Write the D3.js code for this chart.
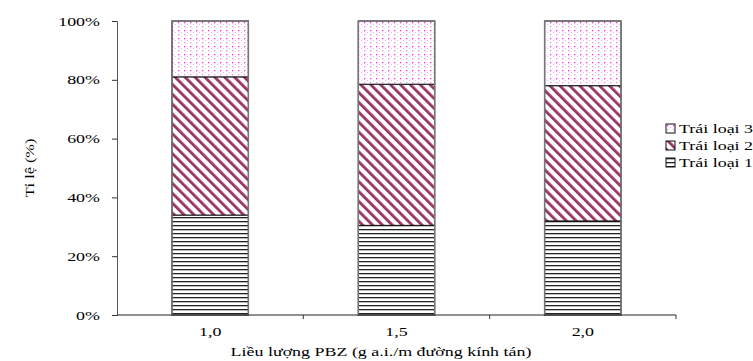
<!DOCTYPE html>
<html>
<head>
<meta charset="utf-8">
<script src="https://cdn.jsdelivr.net/npm/d3@7"></script>
<style>
  body { margin: 0; background: #fff; }
  text { font-family: "Liberation Serif", "Times New Roman", serif; fill: #000; }
</style>
</head>
<body>
<div id="wrapper"></div>
<script>
// chart values
var categories = ["1,0", "1,5", "2,0"];
var seriesNames = ["Trái loại 1", "Trái loại 2", "Trái loại 3"];
var loai1 = [34.0, 30.5, 32.0];
var loai2 = [47.0, 48.0, 46.0];
var loai3 = [19.0, 21.5, 22.0];
var yTicks = [0, 20, 40, 60, 80, 100];

// the original text is wide (stretched Times), so text gets a horizontal scale
var textStretch = 1.38;

var dimension = {
    width: 753,
    height: 361,
    margin: { top: 21, left: 117, bottom: 46, right: 77 }
};
dimension.boundedWidth = dimension.width - dimension.margin.left - dimension.margin.right;
dimension.boundedHeight = dimension.height - dimension.margin.top - dimension.margin.bottom;

var table = categories.map(function(c, i){
    return { cat: c, l1: loai1[i], l2: loai2[i], l3: loai3[i] };
});
var stack = d3.stack().keys(["l1", "l2", "l3"])(table);

const svg = d3.select("#wrapper")
    .append("svg")
    .attr("width", dimension.width)
    .attr("height", dimension.height);

// fill patterns
const defs = svg.append("defs");
var pH = defs.append("pattern").attr("id", "pat1")
    .attr("patternUnits", "userSpaceOnUse").attr("width", 8).attr("height", 4);
pH.append("rect").attr("width", 8).attr("height", 4).attr("fill", "#fff");
pH.append("rect").attr("y", 0).attr("width", 8).attr("height", 1.3).attr("fill", "#222");

var pD = defs.append("pattern").attr("id", "pat2")
    .attr("patternUnits", "userSpaceOnUse").attr("width", 7).attr("height", 7)
    .attr("patternTransform", "rotate(-45)");
pD.append("rect").attr("width", 7).attr("height", 7).attr("fill", "#fff");
pD.append("rect").attr("x", 0).attr("width", 2.8).attr("height", 7).attr("fill", "#993366");

var pP = defs.append("pattern").attr("id", "pat3")
    .attr("patternUnits", "userSpaceOnUse").attr("width", 6).attr("height", 8);
pP.append("rect").attr("width", 6).attr("height", 8).attr("fill", "#fff");
pP.append("rect").attr("x", 1).attr("y", 1).attr("width", 1.3).attr("height", 1.3).attr("fill", "#ff22ff");
pP.append("rect").attr("x", 1).attr("y", 5).attr("width", 1.3).attr("height", 1.3).attr("fill", "#ff88ff");
pP.append("rect").attr("x", 4).attr("y", 3).attr("width", 1).attr("height", 1).attr("fill", "#ffaaff");

var fills = ["url(#pat1)", "url(#pat2)", "url(#pat3)"];

const bounded = svg.append("g")
    .attr("transform", `translate(${dimension.margin.left},${dimension.margin.top})`);

const yScaler = d3.scaleLinear()
    .domain([0, 100])
    .range([dimension.boundedHeight, 0]);

const xScaler = d3.scaleBand()
    .domain(categories)
    .range([0, dimension.boundedWidth])
    .paddingInner(0.59)
    .paddingOuter(0.295);

// bars
bounded.append("g")
    .selectAll("g")
    .data(stack)
    .enter()
    .append("g")
    .attr("fill", (d, i) => fills[i])
    .selectAll("rect")
    .data(d => d)
    .enter()
    .append("rect")
    .attr("x", d => xScaler(d.data.cat))
    .attr("width", xScaler.bandwidth())
    .attr("y", d => yScaler(d[1]))
    .attr("height", d => yScaler(d[0]) - yScaler(d[1]))
    .attr("stroke", "#111")
    .attr("stroke-width", 1);

// side borders of bars are grey
bounded.append("g")
    .selectAll("rect")
    .data(categories)
    .enter()
    .append("rect")
    .attr("x", d => xScaler(d))
    .attr("y", yScaler(100))
    .attr("width", xScaler.bandwidth())
    .attr("height", yScaler(0) - yScaler(100))
    .attr("fill", "none")
    .attr("stroke", "#777")
    .attr("stroke-width", 1.5);

// y axis
const yAxis = bounded.append("g")
    .call(d3.axisLeft(yScaler).tickValues(yTicks).tickSize(5).tickFormat(d => d + "%"));
yAxis.select(".domain").attr("stroke", "#555");
yAxis.selectAll(".tick line").attr("stroke", "#333");
yAxis.selectAll(".tick text")
    .attr("x", 0)
    .attr("transform", `translate(-17,0) scale(${textStretch},1)`)
    .style("font-family", "Liberation Serif")
    .style("font-size", "13px");

// x axis
var step = dimension.boundedWidth / categories.length;
const xAxis = bounded.append("g")
    .attr("transform", `translate(0,${dimension.boundedHeight})`);
xAxis.append("line")
    .attr("x1", 0).attr("x2", dimension.boundedWidth)
    .attr("stroke", "#222");
xAxis.selectAll("line.tk")
    .data(categories)
    .enter()
    .append("line")
    .attr("class", "tk")
    .attr("x1", (d, i) => (i + 1) * step)
    .attr("x2", (d, i) => (i + 1) * step)
    .attr("y1", 0).attr("y2", 4)
    .attr("stroke", "#333");
xAxis.selectAll("text")
    .data(categories)
    .enter()
    .append("text")
    .attr("transform", d => `translate(${xScaler(d) + xScaler.bandwidth() / 2},21) scale(${textStretch},1)`)
    .attr("text-anchor", "middle")
    .style("font-size", "13px")
    .text(d => d);

// axis titles
svg.append("text")
    .attr("transform", `translate(381,356) scale(${textStretch},1)`)
    .attr("text-anchor", "middle")
    .style("font-size", "13px")
    .text("Liều lượng PBZ (g a.i./m đường kính tán)");

svg.append("text")
    .attr("transform", `translate(34,168) rotate(-90) scale(1.25,1)`)
    .attr("text-anchor", "middle")
    .style("font-size", "13px")
    .text("Tỉ lệ (%)");

// legend
var legendNames = seriesNames.slice().reverse();
var legendFills = fills.slice().reverse();
const legend = svg.append("g").attr("transform", "translate(666,124)");
var row = legend.selectAll("g")
    .data(legendNames)
    .enter()
    .append("g")
    .attr("transform", (d, i) => `translate(0,${i * 17})`);
row.append("rect")
    .attr("width", 9).attr("height", 9)
    .attr("fill", (d, i) => legendFills[i])
    .attr("stroke", "#111");
row.append("text")
    .attr("transform", `translate(13,9) scale(${textStretch},1)`)
    .style("font-size", "13px")
    .text(d => d);
</script>
</body>
</html>
